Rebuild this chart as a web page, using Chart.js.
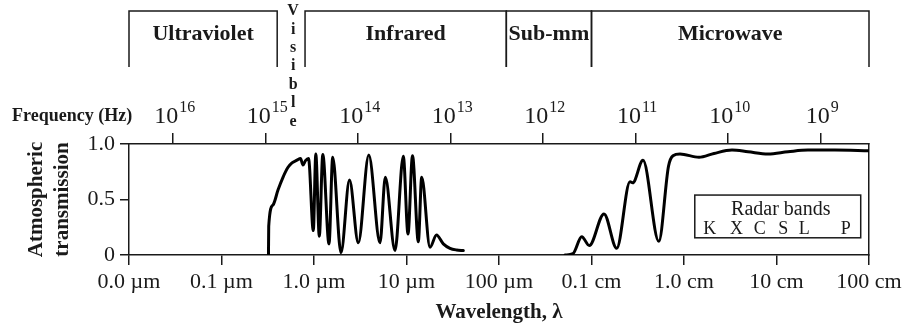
<!DOCTYPE html>
<html>
<head>
<meta charset="utf-8">
<script src="https://cdn.jsdelivr.net/npm/chart.js@4"></script>
<style>
  body { margin: 0; background: #fff; }
  canvas { display: block; }
</style>
</head>
<body>
<canvas id="spectrum" width="910" height="328"></canvas>
<script>
// wavelength in micrometres, transmission 0..1 (null = no curve drawn)
const wavelengthUm = [
  0.322, 0.324, 0.360, 0.408, 0.462, 0.524, 0.578, 0.655, 0.715, 0.760, 0.809, 0.872,
  0.983, 1.046, 1.141, 1.245, 1.453, 1.593, 1.958, 2.420, 3.012, 3.911, 5.171, 5.899,
  7.511, 9.236, 10.38, 11.61, 13.42, 14.60, 17.96, 21.10, 24.99, 29.53, 34.88, 41.13,
  150,
  517, 631, 784, 946, 1365, 1873, 2608, 2788, 3604, 5341, 6798, 7604, 9054,
  14530, 21100, 33030, 49190, 80930, 133200, 219000, 428900, 1000000
];
const transmission = [
  0, 0.26, 0.45, 0.585, 0.70, 0.79, 0.83, 0.855, 0.87, 0.81, 0.85, 0.87,
  0.22, 0.91, 0.17, 0.905, 0.10, 0.88, 0.02, 0.675, 0.11, 0.90, 0.11, 0.70,
  0.04, 0.89, 0.19, 0.895, 0.12, 0.70, 0.07, 0.18, 0.10, 0.06, 0.045, 0.04,
  null,
  0, 0.013, 0.165, 0.085, 0.37, 0.06, 0.66, 0.65, 0.853, 0.123, 0.80, 0.895, 0.91,
  0.88, 0.915, 0.945, 0.93, 0.91, 0.93, 0.945, 0.945, 0.94
];

const wavelengthTicksUm = [0.01, 0.1, 1, 10, 100, 1000, 10000, 100000, 1000000];
const wavelengthTickLabels = ['0.0 µm', '0.1 µm', '1.0 µm', '10 µm', '100 µm', '0.1 cm', '1.0 cm', '10 cm', '100 cm'];
const frequencyExponents = [16, 15, 14, 13, 12, 11, 10, 9];
const transmissionTicks = [0, 0.5, 1];
const transmissionTickLabels = ['0', '0.5', '1.0'];

const regionNames = ['Ultraviolet', 'Infrared', 'Sub-mm', 'Microwave'];
const regionStartUm = [0.01, 0.8, 120, 1000];
const regionEndUm = [0.4, 120, 1000, 1000000];
const visibleName = 'Visible';

const radarBands = ['K', 'X', 'C', 'S', 'L', 'P'];
const radarBandCm = [1.9, 3.7, 6.6, 11.8, 20, 56];

const SERIF = '"Liberation Serif", "DejaVu Serif", serif';
const INK = '#1a1a1a';

const points = wavelengthUm.map((w, i) => ({ x: w, y: transmission[i] }));

const decorations = {
  id: 'decorations',
  afterDraw(chart) {
    const { ctx } = chart;
    const x = chart.scales.x;
    const x2 = chart.scales.x2;
    const y = chart.scales.y;
    ctx.save();
    ctx.strokeStyle = INK;
    ctx.fillStyle = INK;
    ctx.lineWidth = 1.5;

    // spectrum region brackets along the top
    ctx.font = 'bold 22px ' + SERIF;
    ctx.textAlign = 'center';
    ctx.textBaseline = 'middle';
    regionNames.forEach((name, i) => {
      const a = x.getPixelForValue(regionStartUm[i]);
      const b = x.getPixelForValue(regionEndUm[i]);
      ctx.beginPath();
      ctx.moveTo(a, 67);
      ctx.lineTo(a, 11);
      ctx.lineTo(b, 11);
      ctx.lineTo(b, 67);
      ctx.stroke();
      ctx.fillText(name, (a + b) / 2, 34);
    });

    // "Visible" written downwards in the narrow gap
    const vx = (x.getPixelForValue(regionEndUm[0]) + x.getPixelForValue(regionStartUm[1])) / 2 + 2;
    ctx.font = 'bold 16px ' + SERIF;
    visibleName.split('').forEach((ch, i) => {
      ctx.fillText(ch, vx, 11 + i * 18.4);
    });

    // frequency axis labels
    ctx.textAlign = 'left';
    ctx.textBaseline = 'alphabetic';
    ctx.font = 'bold 18px ' + SERIF;
    ctx.fillText('Frequency (Hz)', 12, 121);
    frequencyExponents.forEach(e => {
      const px = x2.getPixelForValue(3e14 / Math.pow(10, e));
      ctx.font = '24px ' + SERIF;
      const wBase = ctx.measureText('10').width;
      ctx.font = '16px ' + SERIF;
      const wExp = ctx.measureText(String(e)).width;
      const start = px - (wBase + wExp) / 2 + 1;
      ctx.font = '24px ' + SERIF;
      ctx.fillText('10', start, 123);
      ctx.font = '16px ' + SERIF;
      ctx.fillText(String(e), start + wBase + 1, 112);
    });

    // radar band key
    const bx = radarBandCm.map(cm => x.getPixelForValue(cm * 1e4));
    const left = bx[0] - 15, right = bx[bx.length - 1] + 15;
    const top = y.getPixelForValue(0.54), bottom = y.getPixelForValue(0.155);
    ctx.strokeRect(left, top, right - left, bottom - top);
    ctx.textAlign = 'center';
    ctx.textBaseline = 'middle';
    ctx.font = '20px ' + SERIF;
    ctx.fillText('Radar bands', (left + right) / 2 + 3, top + 15);
    ctx.font = '18px ' + SERIF;
    radarBands.forEach((b, i) => ctx.fillText(b, bx[i], top + 34));
    ctx.restore();
  }
};

const gridStyle = (len) => ({
  drawOnChartArea: false,
  drawTicks: true,
  tickLength: len,
  color: INK,
  lineWidth: 1.5
});
const borderStyle = { display: true, color: INK, width: 1.5 };

new Chart(document.getElementById('spectrum').getContext('2d'), {
  type: 'line',
  data: {
    datasets: [{
      data: points,
      borderColor: '#000',
      borderWidth: 3,
      pointRadius: 0,
      fill: false,
      spanGaps: false,
      cubicInterpolationMode: 'monotone',
      borderJoinStyle: 'round',
      borderCapStyle: 'round'
    }]
  },
  options: {
    responsive: false,
    animation: false,
    layout: { padding: 0 },
    plugins: { legend: { display: false }, tooltip: { enabled: false } },
    scales: {
      x: {
        type: 'logarithmic',
        position: 'bottom',
        min: 0.01,
        max: 1000000,
        afterBuildTicks: s => { s.ticks = wavelengthTicksUm.map(v => ({ value: v })); },
        afterFit: s => { s.height = 73; },
        ticks: {
          autoSkip: false,
          maxRotation: 0,
          padding: 4,
          color: INK,
          font: { family: SERIF, size: 22 },
          callback: (v, i) => wavelengthTickLabels[i]
        },
        grid: gridStyle(10),
        border: borderStyle,
        title: {
          display: true,
          text: 'Wavelength, λ',
          color: INK,
          font: { family: SERIF, size: 21, weight: 'bold' },
          padding: { top: 0, bottom: 3 }
        }
      },
      x2: {
        type: 'logarithmic',
        position: 'top',
        min: 0.01,
        max: 1000000,
        afterBuildTicks: s => { s.ticks = frequencyExponents.map(e => ({ value: 3e14 / Math.pow(10, e) })); },
        afterFit: s => { s.height = 144; },
        ticks: { display: false },
        grid: gridStyle(11),
        border: borderStyle
      },
      y: {
        type: 'linear',
        position: 'left',
        min: 0,
        max: 1,
        afterBuildTicks: s => { s.ticks = transmissionTicks.map(v => ({ value: v })); },
        afterFit: s => { s.width = 129; },
        ticks: {
          padding: 5,
          color: INK,
          font: { family: SERIF, size: 22 },
          callback: (v, i) => transmissionTickLabels[i]
        },
        grid: gridStyle(9),
        border: borderStyle,
        title: {
          display: true,
          text: ['Atmospheric', 'transmission'],
          color: INK,
          font: { family: SERIF, size: 21, weight: 'bold', lineHeight: 1.25 },
          padding: { top: 23, bottom: 0 }
        }
      },
      y2: {
        type: 'linear',
        position: 'right',
        min: 0,
        max: 1,
        afterFit: s => { s.width = 41; },
        ticks: { display: false },
        grid: { display: true, drawOnChartArea: false, drawTicks: false },
        border: borderStyle
      }
    }
  },
  plugins: [decorations]
});
</script>
</body>
</html>
